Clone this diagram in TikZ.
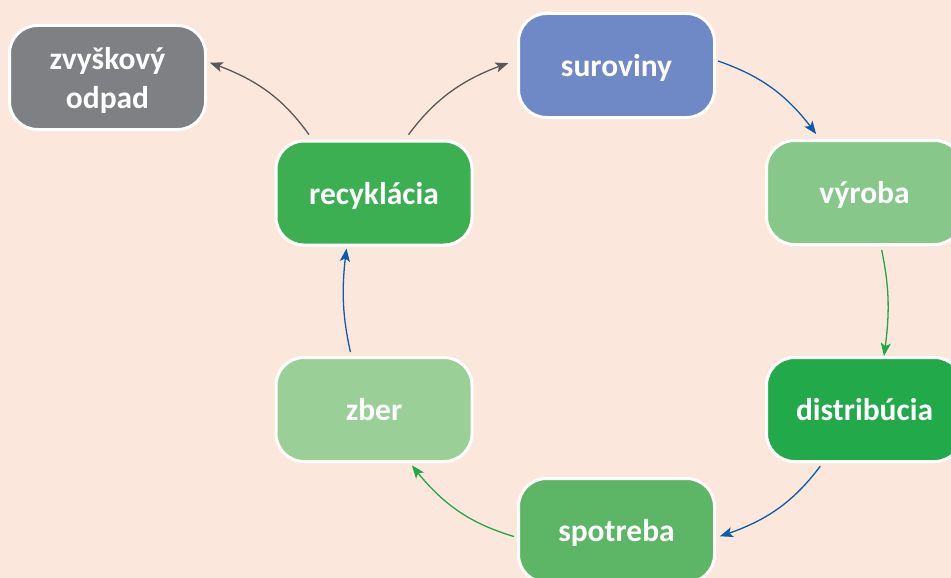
\documentclass[tikz,border=0pt]{standalone}
\usepackage{fontspec}
\setmainfont{Carlito}
\usetikzlibrary{arrows.meta,bending}
\definecolor{bgc}{HTML}{FCE7DC}
\definecolor{cwaste}{HTML}{7F8083}
\definecolor{csur}{HTML}{6F89C6}
\definecolor{crec}{HTML}{3DAF53}
\definecolor{cvyr}{HTML}{88C78A}
\definecolor{cdis}{HTML}{21A94A}
\definecolor{czber}{HTML}{9BCF98}
\definecolor{cspo}{HTML}{5CB666}
\definecolor{agray}{HTML}{595959}
\definecolor{ablue}{HTML}{0B5CAD}
\definecolor{agreen}{HTML}{20A84A}
\tikzset{
  box/.style={draw=white, line width=3pt, rounded corners=28pt,
    minimum width=196pt, minimum height=104pt, inner sep=0pt, text depth=0pt,
    text=white, align=center, font=\bfseries\fontsize{31.5}{39}\selectfont},
  conn/.style={line width=1.3pt, -{Stealth[length=13pt,width=10pt,inset=3pt]}},
}
\begin{document}
\begin{tikzpicture}[x=1pt,y=-1pt]
\fill[bgc] (0,0) rectangle (951,578);
\useasboundingbox (0,0) rectangle (951,578);
\node[box, fill=cwaste] (W) at (107.5,77.5) {zvyškový\\odpad};
\node[box, fill=csur] (S) at (616.5,65.5) {suroviny};
\node[box, fill=crec] (R) at (374,193) {recyklácia};
\node[box, fill=cvyr] (V) at (864.5,192.5) {výroba};
\node[box, fill=cdis] (D) at (864.5,409.5) {distribúcia};
\node[box, fill=czber] (Z) at (374,409.5) {zber};
\node[box, fill=cspo] (P) at (616.5,530.5) {spotreba};
\draw[conn, agray, shorten <=6pt, shorten >=3pt] (R.139) to[bend right=18] (W.9);
\draw[conn, agray, shorten <=6pt, shorten >=9pt] (R.60) to[bend left=18] (S.177);
\draw[conn, ablue, shorten <=2pt, shorten >=6pt] (S.3) to[bend left=18] (V.130);
\draw[conn, agreen, shorten <=4pt, shorten >=0pt] (V.-73) to[bend left=10] (D.70);
\draw[conn, ablue, shorten <=4pt, shorten >=4pt] (D.-128) to[bend left=18] (P.-4);
\draw[conn, agreen, shorten <=3pt, shorten >=3pt] (P.184) to[bend left=18] (Z.-56);
\draw[conn, ablue, shorten <=4pt, shorten >=2pt] (Z.113) to[bend left=10] (R.243);
\end{tikzpicture}
\end{document}
